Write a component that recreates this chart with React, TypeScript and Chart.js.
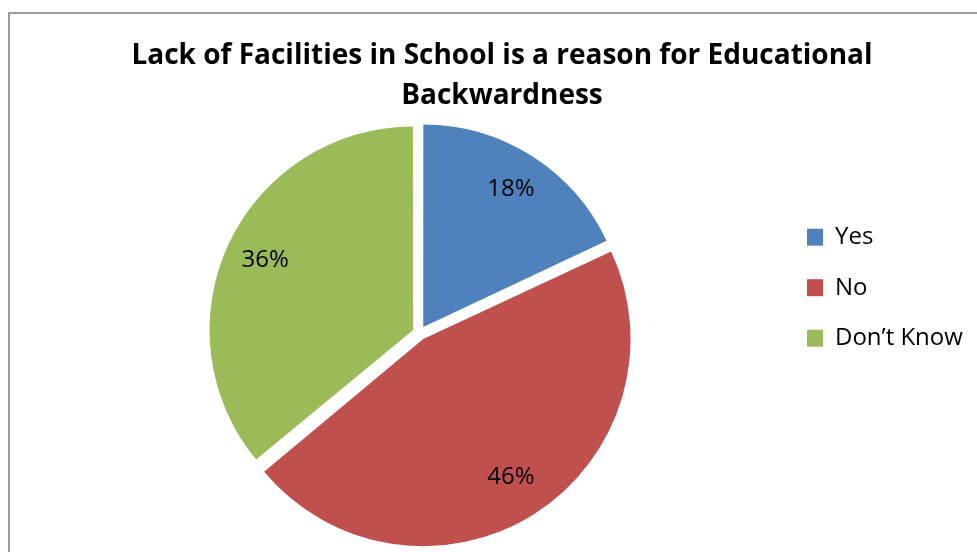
import React, { useEffect, useRef } from 'react';
import { Chart, registerables } from 'chart.js';

Chart.register(...registerables);

const categories = ['Yes', 'No', 'Don\u2019t Know'];
const shares = [18, 46, 36];
const sliceColors = ['#4F81BD', '#C0504D', '#9BBB59'];
const titleLines = ['Lack of Facilities in School is a reason for Educational', 'Backwardness'];

const FONT = "'Open Sans', 'DejaVu Sans', sans-serif";

const pieLabelPlugin = {
  id: 'pieLabels',
  afterDatasetsDraw(chart: any) {
    const ctx = chart.ctx;
    const meta = chart.getDatasetMeta(0);
    const ds = chart.data.datasets[0];
    ctx.save();
    ctx.font = `24px ${FONT}`;
    ctx.fillStyle = '#000000';
    ctx.textAlign = 'center';
    ctx.textBaseline = 'middle';
    meta.data.forEach((arc: any, i: number) => {
      const p = arc.getProps(['x', 'y', 'startAngle', 'endAngle', 'outerRadius'], true);
      const mid = (p.startAngle + p.endAngle) / 2;
      const shift = (arc.options.offset || 0) / 4;
      const d = shift + p.outerRadius * 0.81;
      ctx.fillText(`${ds.data[i]}%`, p.x + Math.cos(mid) * d, p.y + Math.sin(mid) * d);
    });
    ctx.restore();
  },
};

export default function App() {
  const canvasRef = useRef<HTMLCanvasElement | null>(null);

  useEffect(() => {
    if (!canvasRef.current) return;
    const chart = new Chart(canvasRef.current, {
      type: 'pie',
      data: {
        // one-line arrays so the legend row height follows the font line height
        labels: categories.map((c) => [c]),
        datasets: [
          {
            data: shares,
            backgroundColor: sliceColors,
            borderWidth: 0,
            offset: 28,
          },
        ],
      },
      options: {
        responsive: false,
        animation: false,
        layout: { padding: { top: 13, left: 38, right: 11, bottom: 3 } },
        plugins: {
          title: {
            display: true,
            text: titleLines,
            color: '#000000',
            font: { family: FONT, size: 28, weight: 'bold', lineHeight: 40 / 28 },
            padding: { top: 23, bottom: 1 },
          },
          legend: {
            position: 'right',
            align: 'start',
            fullSize: false,
            maxWidth: 165,
            title: {
              display: true,
              text: ' ',
              font: { size: 10, lineHeight: 1 },
              padding: { top: 92.2, bottom: 0 },
            },
            labels: {
              boxWidth: 16,
              boxHeight: 17,
              padding: 6,
              color: '#000000',
              font: { family: FONT, size: 24, lineHeight: 44.5 / 24 },
            },
          },
          tooltip: { enabled: false },
        },
      } as any,
      plugins: [pieLabelPlugin],
    });
    return () => chart.destroy();
  }, []);

  return (
    <div style={{ position: 'absolute', left: 0, top: 0, width: 977, height: 552, overflow: 'hidden', background: '#ffffff' }}>
      <div
        style={{
          position: 'absolute',
          left: 8,
          top: 12,
          width: 1100,
          height: 700,
          border: '2px solid #9c9c9c',
          boxSizing: 'border-box',
        }}
      />
      <canvas
        ref={canvasRef}
        width={977}
        height={552}
        style={{ position: 'absolute', left: 0, top: 0, width: 977, height: 552 }}
      />
    </div>
  );
}
